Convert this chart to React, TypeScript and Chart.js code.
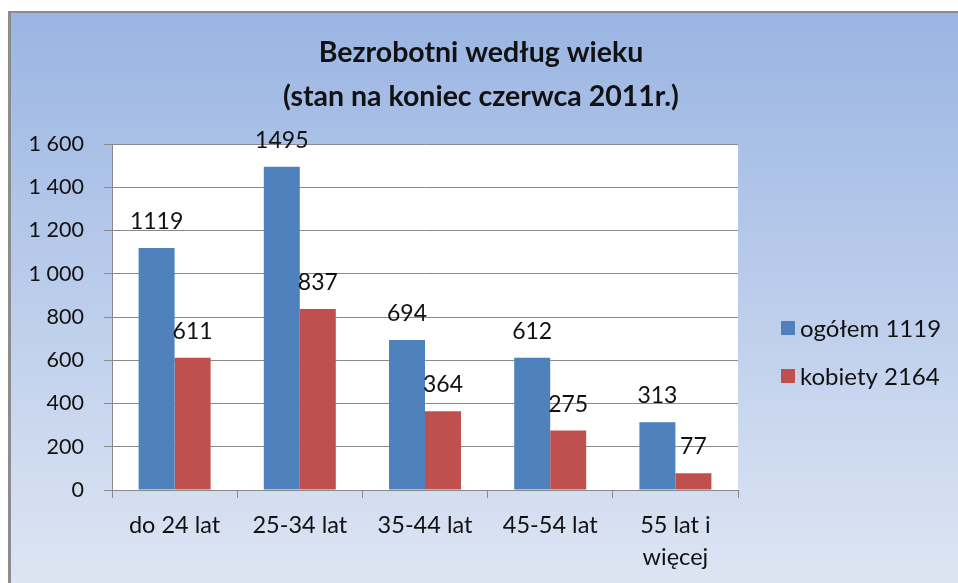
import React, { useEffect, useRef } from "react";
import { Chart, registerables } from "chart.js";

Chart.register(...registerables);

const titleLines = ["Bezrobotni według wieku", "(stan na koniec czerwca 2011r.)"];
const categories: (string | string[])[] = ["do 24 lat", "25-34 lat", "35-44 lat", "45-54 lat", ["55 lat i", "więcej"]];
const seriesNames = ["ogółem 1119", "kobiety 2164"];
const ogolem = [1119, 1495, 694, 612, 313];
const kobiety = [611, 837, 364, 275, 77];
const yTicks = [0, 200, 400, 600, 800, 1000, 1200, 1400, 1600];

const BLUE = "#4f81bd";
const RED = "#c0504d";
const GRID = "#8a8a8a";
const FONT = "Lato, 'Open Sans', sans-serif";

const fmt = (v: number) => {
  const s = String(Math.round(v));
  return s.replace(/\B(?=(\d{3})+(?!\d))/g, " ");
};

const decorPlugin = {
  id: "decor",
  beforeDraw(chart: any) {
    const { ctx, width, height, chartArea } = chart;
    ctx.save();
    ctx.fillStyle = "#ffffff";
    ctx.fillRect(0, 0, width, height);
    const g = ctx.createLinearGradient(0, 12, 0, height);
    g.addColorStop(0, "#9ab5e3");
    g.addColorStop(1, "#dde5f3");
    ctx.fillStyle = g;
    ctx.fillRect(8, 11, width - 8, height - 11);
    ctx.fillStyle = "#8c8c8c";
    ctx.fillRect(8, 11, width - 8, 2);
    ctx.fillRect(8, 11, 3, height - 11);
    ctx.fillStyle = "#ffffff";
    ctx.fillRect(chartArea.left, chartArea.top, chartArea.right - chartArea.left, chartArea.bottom - chartArea.top);
    ctx.restore();
  },
  afterDatasetsDraw(chart: any) {
    const { ctx } = chart;
    ctx.save();
    ctx.font = `23px ${FONT}`;
    ctx.fillStyle = "#111";
    ctx.textAlign = "center";
    ctx.textBaseline = "alphabetic";
    chart.data.datasets.forEach((ds: any, di: number) => {
      const meta = chart.getDatasetMeta(di);
      meta.data.forEach((el: any, i: number) => {
        ctx.fillText(String(ds.data[i]), el.x, el.y - 19);
      });
    });
    ctx.restore();
  },
  afterDraw(chart: any) {
    const { ctx } = chart;
    ctx.save();
    // title
    ctx.font = `bold 28.5px ${FONT}`;
    ctx.fillStyle = "#111";
    ctx.textAlign = "center";
    ctx.textBaseline = "middle";
    titleLines.forEach((t, i) => ctx.fillText(t, 481, 53 + i * 44));
    // legend
    ctx.font = `24px ${FONT}`;
    ctx.textAlign = "left";
    chart.data.datasets.forEach((ds: any, i: number) => {
      const cy = 328 + i * 48;
      ctx.fillStyle = ds.backgroundColor;
      ctx.fillRect(781, cy - 7, 14, 14);
      ctx.fillStyle = "#111";
      ctx.fillText(ds.label, 800, cy + 1);
    });
    ctx.restore();
  },
};

export default function App() {
  const ref = useRef<HTMLCanvasElement | null>(null);
  useEffect(() => {
    if (!ref.current) return;
    const chart = new Chart(ref.current, {
      type: "bar",
      data: {
        labels: categories,
        datasets: [
          { label: seriesNames[0], data: ogolem, backgroundColor: BLUE, categoryPercentage: 0.575, barPercentage: 1 },
          { label: seriesNames[1], data: kobiety, backgroundColor: RED, categoryPercentage: 0.575, barPercentage: 1 },
        ],
      },
      options: {
        animation: false,
        responsive: false,
        layout: { padding: { top: 144, right: 220, left: 0, bottom: 0 } },
        plugins: {
          legend: { display: false },
          title: { display: false },
          tooltip: { enabled: false },
        },
        scales: {
          x: {
            afterFit: (s: any) => { s.height = 93; },
            grid: { display: true, drawOnChartArea: false, drawTicks: true, tickLength: 8, color: GRID, offset: true },
            border: { display: true, color: GRID, width: 1 },
            ticks: { color: "#111", font: { family: FONT, size: 23.5, lineHeight: 1.36 }, padding: 11, maxRotation: 0, autoSkip: false },
          },
          y: {
            min: 0,
            max: 1600,
            afterFit: (s: any) => { s.width = 112; },
            afterBuildTicks: (s: any) => { s.ticks = yTicks.map((v) => ({ value: v })); },
            grid: { color: GRID, drawTicks: true, tickLength: 8 },
            border: { display: true, color: GRID, width: 1 },
            ticks: { color: "#111", font: { family: FONT, size: 21.5 }, padding: 20, callback: (v: any) => fmt(Number(v)) },
          },
        },
      },
      plugins: [decorPlugin],
    });
    return () => chart.destroy();
  }, []);
  return (
    <div style={{ position: "fixed", left: 0, top: 0, width: 958, height: 583 }}>
      <canvas ref={ref} width={958} height={583} />
    </div>
  );
}
